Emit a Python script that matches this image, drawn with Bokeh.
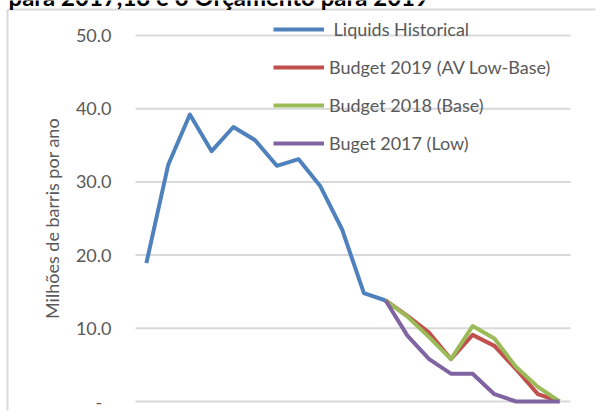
from math import pi
from bokeh.plotting import figure
from bokeh.models import Range1d, Legend, LegendItem
from bokeh.core.properties import value
from bokeh.embed import file_html
from bokeh.resources import INLINE

# ---- data ----
title_text = "para 2017,18 e o Orçamento para 2019"
y_label = "Milhões de barris por ano"
y_ticks = [0, 10, 20, 30, 40, 50]
y_tick_labels = ["-\u00a0\u00a0", "10.0", "20.0", "30.0", "40.0", "50.0"]

hist_x = [0, 1, 2, 3, 4, 5, 6, 7, 8, 9, 10, 11]
historical = [18.9, 32.3, 39.2, 34.2, 37.5, 35.7, 32.2, 33.1, 29.4, 23.5, 14.8, 13.8]

fc_x = [11, 12, 13, 14, 15, 16, 17, 18, 19]
budget_2019 = [13.8, 11.7, 9.4, 5.8, 9.1, 7.6, 4.4, 1.0, 0.0]
budget_2018 = [13.8, 11.6, 8.8, 5.8, 10.3, 8.6, 4.7, 2.0, 0.0]
budget_2017 = [13.8, 9.0, 5.8, 3.8, 3.8, 1.0, 0.0, 0.0, 0.0]

names = ["\u00a0Liquids Historical", "Budget 2019 (AV Low-Base)", "Budget 2018 (Base)", "Buget 2017 (Low)"]
colors = ["#4F81BD", "#C0504D", "#9BBB59", "#8064A2"]

FONT = "Lato"
TXT = "#595959"
GRID = "#D9D9D9"

# ---- layout (pixels in the 597x412 canvas) ----
W, H = 597, 412
PLOT_L, PLOT_R, PLOT_T, PLOT_B = 135, 570, 35, 401
n_cat = 20
x_lo, x_hi = -0.5, n_cat - 0.5
y_lo, y_hi = 0, 50
sx = (PLOT_R - PLOT_L) / (x_hi - x_lo)
sy = (PLOT_B - PLOT_T) / (y_hi - y_lo)
def dx(px):
    return x_lo + (px - PLOT_L) / sx
def dy(py):
    return y_lo + (PLOT_B - py) / sy

p = figure(width=W, height=H, output_backend="svg", toolbar_location=None,
           x_range=Range1d(dx(0), dx(W)), y_range=Range1d(dy(H), dy(0)),
           min_border=0, min_border_left=0, min_border_right=0,
           min_border_top=0, min_border_bottom=0)
p.styles = {"position": "absolute", "left": "0px", "top": "0px"}
p.outline_line_color = None
p.axis.visible = False
p.grid.visible = False

# chart area border (left / top)
p.segment(x0=[dx(7), dx(7)], y0=[dy(9), dy(9)], x1=[dx(7), dx(W - 2)], y1=[dy(H - 2), dy(9)],
          line_color=GRID, line_width=2)

# gridlines at the value-axis ticks
p.segment(x0=[x_lo] * len(y_ticks), x1=[x_hi] * len(y_ticks), y0=y_ticks, y1=y_ticks,
          line_color=GRID, line_width=2)

# value-axis tick labels and title
p.text(x=[dx(111)] * len(y_ticks), y=y_ticks, text=y_tick_labels,
       text_align="right", text_baseline="middle",
       text_font=value(FONT), text_font_size="18px", text_color=TXT)
p.text(x=[dx(51)], y=[(y_lo + y_hi) / 2], text=[y_label], angle=pi / 2,
       text_align="center", text_baseline="middle",
       text_font=value(FONT), text_font_size="18px", text_color=TXT)

r0 = p.line(hist_x, historical, line_color=colors[0], line_width=4, line_join="round")
r1 = p.line(fc_x, budget_2019, line_color=colors[1], line_width=4, line_join="round")
r2 = p.line(fc_x, budget_2018, line_color=colors[2], line_width=4, line_join="round")
r3 = p.line(fc_x, budget_2017, line_color=colors[3], line_width=4, line_join="round")

legend = Legend(items=[LegendItem(label=n, renderers=[r]) for n, r in zip(names, [r0, r1, r2, r3])],
                location=(273, H - 154), orientation="vertical",
                glyph_width=51, glyph_height=22, label_height=22, spacing=16,
                label_standoff=5, padding=0, margin=0,
                border_line_color=None, background_fill_alpha=0,
                label_text_font=FONT, label_text_font_size="18px", label_text_color=TXT)
p.add_layout(legend, "center")

# clipped title line of the original chart
p.text(x=[dx(8)], y=[dy(-4.5)], text=[title_text], text_font=value(FONT), text_font_size="24px",
       text_font_style="bold", text_color="black", text_baseline="middle", text_align="left")

open("out.html", "w").write(file_html(p, INLINE))
